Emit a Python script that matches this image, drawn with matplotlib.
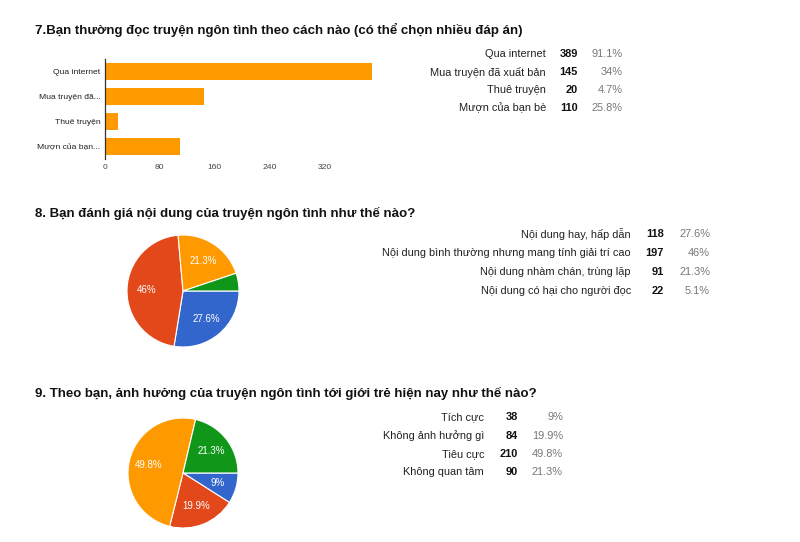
import matplotlib
matplotlib.use("Agg")
import matplotlib.pyplot as plt
import numpy as np

plt.rcParams['font.family'] = ['Liberation Sans', 'DejaVu Sans']

W, H = 800, 542
BLUE, RED, ORANGE, GREEN = '#3366CC', '#E2481A', '#FF9900', '#109618'

# ---- data ----
q7_title = "7.Bạn thường đọc truyện ngôn tình theo cách nào (có thể chọn nhiều đáp án)"
q7_bar_labels = ["Qua internet", "Mua truyện đã...", "Thuê truyện", "Mượn của bạn..."]
q7_labels = ["Qua internet", "Mua truyện đã xuất bản", "Thuê truyện", "Mượn của bạn bè"]
q7_counts = [389, 145, 20, 110]
q7_pcts = ["91.1%", "34%", "4.7%", "25.8%"]
q7_ticks = [0, 80, 160, 240, 320]

q8_title = "8. Bạn đánh giá nội dung của truyện ngôn tình như thế nào?"
q8_labels = ["Nội dung hay, hấp dẫn", "Nội dung bình thường nhưng mang tính giải trí cao",
             "Nội dung nhàm chán, trùng lặp", "Nội dung có hại cho người đọc"]
q8_counts = [118, 197, 91, 22]
q8_pcts = ["27.6%", "46%", "21.3%", "5.1%"]

q9_title = "9. Theo bạn, ảnh hưởng của truyện ngôn tình tới giới trẻ hiện nay như thế nào?"
q9_labels = ["Tích cực", "Không ảnh hưởng gì", "Tiêu cực", "Không quan tâm"]
q9_counts = [38, 84, 210, 90]
q9_pcts = ["9%", "19.9%", "49.8%", "21.3%"]

pie_colors = [BLUE, RED, ORANGE, GREEN]

fig = plt.figure(figsize=(W / 100, H / 100), dpi=100)
fig.patch.set_facecolor('white')


def fx(x):
    return x / W


def fy(y):
    return 1 - y / H


def title(txt, y):
    fig.text(fx(35), fy(y), txt, fontsize=9.5, fontweight='bold', color='#111111',
             ha='left', va='center')


def table(labels, counts, pcts, x_lab, x_cnt, x_pct, ys):
    for lab, c, p, y in zip(labels, counts, pcts, ys):
        fig.text(fx(x_lab), fy(y), lab, fontsize=7.95, color='#222222', ha='right', va='center')
        fig.text(fx(x_cnt), fy(y), str(c), fontsize=7.95, color='#111111', fontweight='bold',
                 ha='right', va='center')
        fig.text(fx(x_pct), fy(y), p, fontsize=7.95, color='#777777', ha='right', va='center')


# ---- Q7 bar chart ----
title(q7_title, 30)
left, right, top, bottom = 104.7, 379.5, 59.2, 159.2
ax = fig.add_axes([fx(left), fy(bottom), (right - left) / W, (bottom - top) / H])
ypos = np.arange(len(q7_counts))
ax.barh(ypos, q7_counts, height=0.667, color=ORANGE)
ax.set_xlim(0, 400)
ax.set_ylim(len(q7_counts) - 0.5, -0.5)
ax.set_yticks(ypos)
ax.set_yticklabels(q7_bar_labels, fontsize=6.1, color='#222222')
ax.set_xticks(q7_ticks)
ax.set_xticklabels([str(t) for t in q7_ticks], fontsize=6.1, color='#444444')
ax.tick_params(length=0, pad=3)
ax.tick_params(axis='x', pad=3.5)
for s in ['top', 'right', 'bottom']:
    ax.spines[s].set_visible(False)
ax.spines['left'].set_color('#333333')
ax.spines['left'].set_linewidth(0.9)

table(q7_labels, q7_counts, q7_pcts, 546, 578, 623, [54, 72, 90, 108])


# ---- pies ----
def pie(cx, cy, r, counts, pcts):
    a = fig.add_axes([fx(cx - r), fy(cy + r), 2 * r / W, 2 * r / H])
    wedges, _ = a.pie(counts, colors=pie_colors, startangle=0, counterclock=False,
                      radius=1, wedgeprops=dict(edgecolor='white', linewidth=0.8))
    total = sum(counts)
    for w, c, p in zip(wedges, counts, pcts):
        if c / total < 0.08:
            continue
        ang = np.deg2rad((w.theta1 + w.theta2) / 2)
        a.text(0.65 * np.cos(ang), 0.65 * np.sin(ang), p, color='white', fontsize=7,
               ha='center', va='center')
    a.set_xlim(-1, 1)
    a.set_ylim(-1, 1)
    a.set_aspect('equal')
    a.axis('off')


title(q8_title, 213)
pie(183, 291, 56, q8_counts, q8_pcts)
table(q8_labels, q8_counts, q8_pcts, 631, 664, 710, [234, 253, 272, 291])

title(q9_title, 393)
pie(183, 473, 55, q9_counts, q9_pcts)
table(q9_labels, q9_counts, q9_pcts, 484, 518, 563, [417, 436, 454, 472])

fig.savefig('out.png', dpi=100, facecolor='white')
